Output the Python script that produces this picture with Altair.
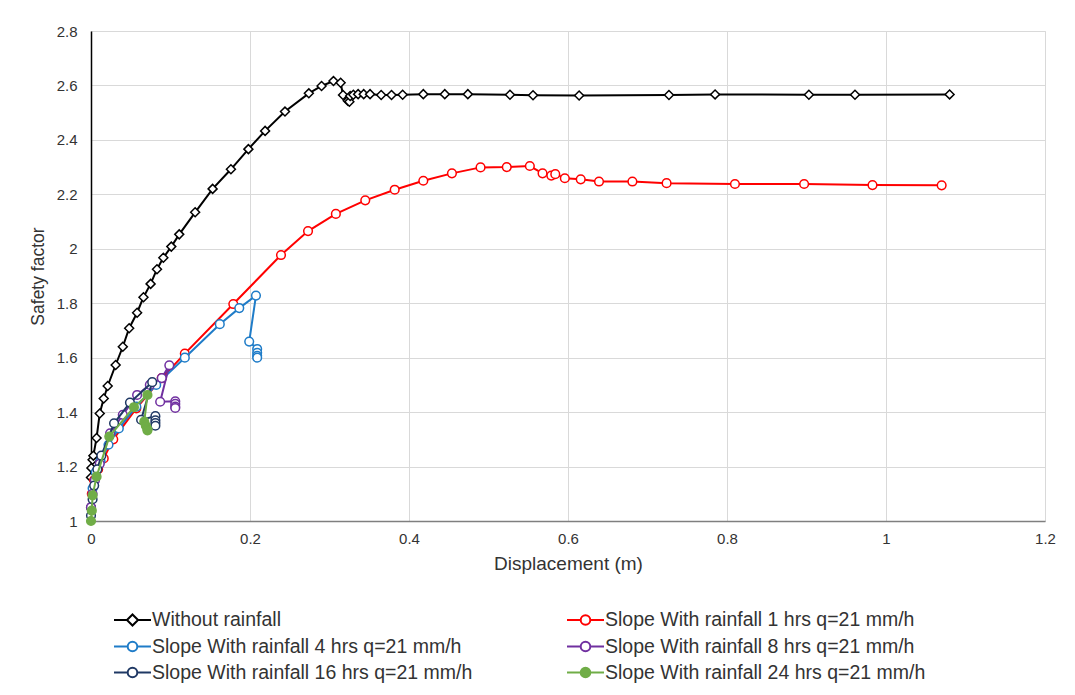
import altair as alt
import pandas as pd

# ---------------- data ----------------
series_names = [
    "Without rainfall",
    "Slope With rainfall 1 hrs q=21 mm/h",
    "Slope With rainfall 4 hrs q=21 mm/h",
    "Slope With rainfall 8 hrs q=21 mm/h",
    "Slope With rainfall 16 hrs q=21 mm/h",
    "Slope With rainfall 24 hrs q=21 mm/h",
]

x_without = [0.0, 0.0005, 0.002, 0.003, 0.007, 0.011, 0.016, 0.021, 0.031, 0.040,
             0.048, 0.058, 0.066, 0.075, 0.083, 0.091, 0.101, 0.111, 0.131, 0.153,
             0.176, 0.198, 0.219, 0.244, 0.274, 0.290, 0.305, 0.314, 0.317, 0.323,
             0.325, 0.326, 0.330, 0.336, 0.343, 0.351, 0.365, 0.378, 0.392, 0.418,
             0.445, 0.474, 0.527, 0.556, 0.614, 0.727, 0.785, 0.903, 0.961, 1.080]
y_without = [1.16, 1.195, 1.225, 1.24, 1.305, 1.395, 1.45, 1.496, 1.573, 1.64,
             1.708, 1.765, 1.822, 1.871, 1.925, 1.967, 2.008, 2.053, 2.134, 2.22,
             2.292, 2.366, 2.433, 2.504, 2.571, 2.598, 2.616, 2.61, 2.565, 2.544,
             2.54, 2.561, 2.566, 2.568, 2.568, 2.568, 2.565, 2.565, 2.566, 2.568,
             2.568, 2.568, 2.566, 2.564, 2.563, 2.565, 2.567, 2.566, 2.566, 2.567]

x_1h = [0.0, 0.001, 0.004, 0.009, 0.016, 0.028, 0.057, 0.089, 0.118, 0.179,
        0.239, 0.273, 0.308, 0.345, 0.382, 0.418, 0.454, 0.490, 0.523, 0.552,
        0.568, 0.579, 0.584, 0.596, 0.616, 0.639, 0.681, 0.724, 0.810, 0.897,
        0.983, 1.070]
y_1h = [1.05, 1.10, 1.15, 1.19, 1.23, 1.30, 1.414, 1.525, 1.615, 1.797,
        1.977, 2.065, 2.128, 2.178, 2.217, 2.25, 2.277, 2.299, 2.30, 2.304,
        2.277, 2.269, 2.274, 2.259, 2.255, 2.247, 2.247, 2.241, 2.238, 2.238,
        2.234, 2.233]

x_4h = [0.0, 0.002, 0.006, 0.012, 0.022, 0.035, 0.057, 0.082, 0.118, 0.162,
        0.1865, 0.2075, 0.199, 0.209, 0.209, 0.209, 0.209]
y_4h = [1.05, 1.12, 1.18, 1.22, 1.28, 1.34, 1.42, 1.50, 1.60, 1.723,
        1.782, 1.828, 1.659, 1.632, 1.618, 1.607, 1.60]

x_8h = [0.0, 0.002, 0.005, 0.011, 0.024, 0.040, 0.058, 0.074, 0.089, 0.0985,
        0.087, 0.106, 0.106, 0.106, 0.106]
y_8h = [1.05, 1.10, 1.15, 1.21, 1.322, 1.39, 1.463, 1.50, 1.525, 1.572,
        1.438, 1.44, 1.43, 1.42, 1.415]

x_16h = [0.0, 0.002, 0.004, 0.008, 0.013, 0.029, 0.049, 0.077, 0.063, 0.081,
         0.081, 0.081, 0.081]
y_16h = [1.02, 1.08, 1.13, 1.19, 1.24, 1.359, 1.435, 1.51, 1.372, 1.385,
         1.37, 1.36, 1.35]

x_24h = [0.0, 0.001, 0.002, 0.007, 0.023, 0.054, 0.071, 0.067, 0.069, 0.071, 0.071]
y_24h = [1.0, 1.038, 1.094, 1.163, 1.31, 1.418, 1.463, 1.365, 1.35, 1.338, 1.333]

x_ticks = [0, 0.2, 0.4, 0.6, 0.8, 1.0, 1.2]
y_ticks = [1.0, 1.2, 1.4, 1.6, 1.8, 2.0, 2.2, 2.4, 2.6, 2.8]

colors = ["#000000", "#FF0000", "#1F7CC8", "#7030A0", "#1F3864", "#70AD47"]
fills = ["#ffffff", "#ffffff", "#ffffff", "#ffffff", "#ffffff", "#70AD47"]
shapes = ["diamond", "circle", "circle", "circle", "circle", "circle"]

# ---------------- build table ----------------
xs = [x_without, x_1h, x_4h, x_8h, x_16h, x_24h]
ys = [y_without, y_1h, y_4h, y_8h, y_16h, y_24h]
rows = []
for name, xv, yv in zip(series_names, xs, ys):
    for i, (a, b) in enumerate(zip(xv, yv)):
        rows.append({"series": name, "order": i, "disp": a, "sf": b})
df = pd.DataFrame(rows)

xscale = alt.Scale(domain=[0, 1.2], nice=False, zero=False)
yscale = alt.Scale(domain=[1.0, 2.8], nice=False, zero=False)

FONT = "Liberation Sans"
TXT = "#333333"

x_enc = alt.X("disp:Q", scale=xscale,
              axis=alt.Axis(values=x_ticks, format="~g", title="Displacement (m)",
                            grid=True, gridColor="#d9d9d9", ticks=False,
                            domainColor="#7f7f7f", domainWidth=1.5, labelFlush=False,
                            labelFont=FONT, labelFontSize=15, labelColor=TXT,
                            labelPadding=10, titleFont=FONT, titleFontSize=19,
                            titleFontWeight="normal", titleColor=TXT, titlePadding=8))
y_enc = alt.Y("sf:Q", scale=yscale,
              axis=alt.Axis(values=y_ticks, format="~g", title="Safety factor",
                            grid=True, gridColor="#d9d9d9", ticks=False,
                            domainColor="#000000", domainWidth=1.5, labelFlush=False,
                            labelFont=FONT, labelFontSize=15, labelColor=TXT,
                            labelPadding=14, titleFont=FONT, titleFontSize=17.5,
                            titleFontWeight="normal", titleColor=TXT, titlePadding=9))

base = alt.Chart(df)
layers = []
for name, col, fil, shp in zip(series_names, colors, fills, shapes):
    sub = base.transform_filter(alt.datum.series == name)
    line = sub.mark_line(color=col, strokeWidth=2).encode(
        x=x_enc, y=y_enc, order="order:Q")
    size = 80 if shp == "diamond" else 75
    pts = sub.mark_point(shape=shp, color=col, fill=fil, filled=False,
                         strokeWidth=1.5, opacity=1, size=size, fillOpacity=1).encode(
        x=x_enc, y=y_enc)
    layers += [line, pts]

# legend-only layer (no data drawn); symbol paths span -2..2 horizontally
circ = "M-2,0L-0.52,0M0.52,0L2,0M0.52,0A0.52,0.52,0,1,1,-0.52,0A0.52,0.52,0,1,1,0.52,0Z"
diam = "M-2,0L-0.6,0M0.6,0L2,0M0.6,0L0,-0.6L-0.6,0L0,0.6Z"
leg_shapes = [diam, circ, circ, circ, circ, circ]

legend = alt.Legend(title=None, orient="none", legendX=31, legendY=578,
                    direction="horizontal",
                    columns=2, columnPadding=90, rowPadding=6,
                    labelFont=FONT, labelFontSize=19.5, labelColor=TXT, labelLimit=500,
                    labelOffset=9, symbolSize=342, symbolStrokeWidth=2,
                    symbolOpacity=1, padding=0)

leg_layer = base.transform_filter("false").mark_point(filled=True, size=342, strokeWidth=2).encode(
    x=x_enc, y=y_enc,
    stroke=alt.Stroke("series:N", scale=alt.Scale(domain=series_names, range=colors), legend=legend),
    fill=alt.Fill("series:N", scale=alt.Scale(domain=series_names, range=fills), legend=legend),
    shape=alt.Shape("series:N", scale=alt.Scale(domain=series_names, range=leg_shapes), legend=legend),
)
layers.append(leg_layer)

chart = alt.layer(*layers).properties(
    width=954, height=490,
    autosize=alt.AutoSizeParams(type="none"),
    padding={"left": 91, "top": 31, "right": 30, "bottom": 174},
).configure_view(stroke=None).configure(background="white")

chart.save("out.html", embed_options={"renderer": "svg", "actions": False})
